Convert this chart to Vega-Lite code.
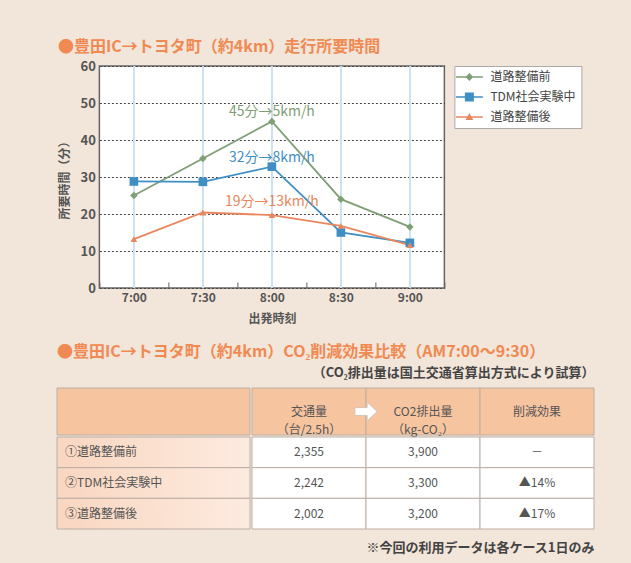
{
"$schema":"https://vega.github.io/schema/vega-lite/v6.json",
"background":"#f2e5d9",
"padding":{"left":56,"top":38,"right":20,"bottom":10},
"config":{
 "font":"Noto Sans CJK JP",
 "view":{"stroke":null},
 "title":{"fontSize":16,"fontWeight":"bold","color":"#f08a52","anchor":"start"}
},
"columns":1,
"center":true,
"spacing":18,
"resolve":{"scale":{"color":"independent","shape":"independent"},"legend":{"color":"independent","shape":"independent"}},
"concat":[
 {
  "title":{"text":"●豊田IC→トヨタ町（約4km）走行所要時間","frame":"bounds","offset":5},
  "width":345,"height":222,
  "view":{"fill":"#ffffff","stroke":"#666666","strokeWidth":1.5},
  "data":{"values":[
   {"時刻":"7:00","系列":"道路整備前","値":25},
   {"時刻":"7:30","系列":"道路整備前","値":35},
   {"時刻":"8:00","系列":"道路整備前","値":45},
   {"時刻":"8:30","系列":"道路整備前","値":24},
   {"時刻":"9:00","系列":"道路整備前","値":16.5},
   {"時刻":"7:00","系列":"TDM社会実験中","値":28.8},
   {"時刻":"7:30","系列":"TDM社会実験中","値":28.7},
   {"時刻":"8:00","系列":"TDM社会実験中","値":32.8},
   {"時刻":"8:30","系列":"TDM社会実験中","値":15},
   {"時刻":"9:00","系列":"TDM社会実験中","値":12.2},
   {"時刻":"7:00","系列":"道路整備後","値":13.2},
   {"時刻":"7:30","系列":"道路整備後","値":20.4},
   {"時刻":"8:00","系列":"道路整備後","値":19.7},
   {"時刻":"8:30","系列":"道路整備後","値":16.8},
   {"時刻":"9:00","系列":"道路整備後","値":11.6}
  ]},
  "encoding":{
   "x":{"field":"時刻","type":"ordinal",
    "scale":{"type":"band","domain":["7:00","7:30","8:00","8:30","9:00"],"paddingInner":0,"paddingOuter":0},
    "axis":{"title":"出発時刻","tickBand":"extent","ticks":true,"tickSize":-6,"tickColor":"#666666","domain":false,"grid":false,"labelAngle":0,"labelFontSize":12,"labelFontWeight":"bold","labelColor":"#555555","labelPadding":10,"titleFontSize":12,"titleFontWeight":"bold","titleColor":"#555555","titlePadding":10}},
   "y":{"field":"値","type":"quantitative","scale":{"domain":[0,60],"nice":false},
    "axis":{"values":[0,10,20,30,40,50,60],"title":"所要時間（分）","grid":true,"gridDash":[2,2],"gridColor":"#444444","gridWidth":1,"ticks":false,"domain":false,"labelOverlap":false,"labelFontSize":13,"labelFontWeight":"bold","labelColor":"#555555","labelPadding":4,"titleFontSize":12,"titleFontWeight":"bold","titleColor":"#555555","titlePadding":9}}
  },
  "layer":[
   {"mark":{"type":"rule","color":"#cde1f1","strokeWidth":1.5},"encoding":{"y":{"datum":60},"y2":{"datum":0}}},
   {"mark":{"type":"line","strokeWidth":1.8},
    "encoding":{"color":{"field":"系列","type":"nominal","scale":{"domain":["道路整備前","TDM社会実験中","道路整備後"],"range":["#7f9f76","#3f8fc4","#e8875d"]}}}},
   {"transform":[{"filter":"datum['系列'] === '道路整備前'"}],
    "mark":{"type":"point","filled":true,"opacity":1,"size":55,"shape":"diamond"},
    "encoding":{"color":{"field":"系列","type":"nominal"}}},
   {"transform":[{"filter":"datum['系列'] === 'TDM社会実験中'"}],
    "mark":{"type":"point","filled":true,"opacity":1,"size":75,"shape":"square"},
    "encoding":{"color":{"field":"系列","type":"nominal"}}},
   {"transform":[{"filter":"datum['系列'] === '道路整備後'"}],
    "mark":{"type":"point","filled":true,"opacity":1,"size":45,"shape":"triangle-up"},
    "encoding":{"color":{"field":"系列","type":"nominal"}}},
   {"transform":[{"filter":"false"}],
    "mark":{"type":"point","filled":true,"opacity":1},
    "encoding":{
     "color":{"field":"系列","type":"nominal",
      "legend":{"title":null,"orient":"right","offset":10,"padding":5,"fillColor":"#ffffff","strokeColor":"#aaaaaa","labelFontSize":12,"labelColor":"#444444","symbolSize":144,"symbolOffset":4,"symbolStrokeWidth":0,"labelOffset":15,"rowPadding":8}},
     "shape":{"field":"系列","type":"nominal",
      "scale":{"domain":["道路整備前","TDM社会実験中","道路整備後"],"range":["M-2.25,-0.13H2.25V0.13H-2.25Z M0,-0.65L0.65,0L0,0.65L-0.65,0Z","M-2.25,-0.13H2.25V0.13H-2.25Z M-0.75,-0.75H0.75V0.75H-0.75Z","M-2.25,-0.13H2.25V0.13H-2.25Z M0,-0.65L0.65,0.5H-0.65Z"]},
      "legend":{"title":null,"orient":"right","offset":10,"padding":5,"fillColor":"#ffffff","strokeColor":"#aaaaaa","labelFontSize":12,"labelColor":"#444444","symbolSize":144,"symbolOffset":4,"symbolStrokeWidth":0,"labelOffset":15,"rowPadding":8}}}},
   {"data":{"values":[
     {"時刻":"8:00","値":47.6,"系列":"道路整備前","注記":"45分→5km/h"},
     {"時刻":"8:00","値":35.2,"系列":"TDM社会実験中","注記":"32分→8km/h"},
     {"時刻":"8:00","値":23.2,"系列":"道路整備後","注記":"19分→13km/h"}
    ]},
    "mark":{"type":"text","fontSize":14},
    "encoding":{"text":{"field":"注記","type":"nominal"},"color":{"field":"系列","type":"nominal"}}}
  ]
 },
 {
  "title":{"text":"●豊田IC→トヨタ町（約4km）CO₂削減効果比較（AM7:00～9:30）","offset":7,"frame":"group"},
  "spacing":0,
  "vconcat":[
   {"spacing":0,"hconcat":[
    {"width":193,"height":47,
     "data":{"values":[{"行":"見出し","列":"項目"}]},
     "mark":{"type":"rect","fill":"#f7c4a0","stroke":"#bcaea4","strokeWidth":1},
     "encoding":{
      "x":{"field":"列","type":"nominal","scale":{"type":"band","paddingInner":0,"paddingOuter":0},"axis":null},
      "y":{"field":"行","type":"nominal","scale":{"type":"band","paddingInner":0,"paddingOuter":0},"axis":null}}},
    {"width":342,"height":47,
     "title":{"text":"（CO₂排出量は国土交通省算出方式により試算）","anchor":"end","fontSize":13,"fontWeight":"bold","color":"#444444","offset":8},
     "data":{"values":[
      {"行":"見出し","列":"交通量","見出し":"交通量\n（台/2.5h）"},
      {"行":"見出し","列":"CO2排出量","見出し":"CO2排出量\n（kg-CO₂）"},
      {"行":"見出し","列":"削減効果","見出し":"削減効果"}]},
     "encoding":{
      "x":{"field":"列","type":"nominal","scale":{"type":"band","domain":["交通量","CO2排出量","削減効果"],"paddingInner":0,"paddingOuter":0},"axis":null},
      "y":{"field":"行","type":"nominal","scale":{"type":"band","paddingInner":0,"paddingOuter":0},"axis":null}},
     "layer":[
      {"mark":{"type":"rect","fill":"#f7c4a0","stroke":"#bcaea4","strokeWidth":1}},
      {"mark":{"type":"text","fontSize":12,"color":"#555555","lineBreak":"\n","lineHeight":18},"encoding":{"text":{"field":"見出し","type":"nominal"}}},
      {"transform":[{"filter":"datum['列'] === 'CO2排出量'"}],
       "mark":{"type":"point","shape":"M-1,-0.35H0.1V-0.85L1,0L0.1,0.85V0.35H-1Z","filled":true,"fill":"#ffffff","stroke":"#d6c3b5","strokeWidth":1,"size":500,"opacity":1},
       "encoding":{"x":{"field":"列","type":"nominal","bandPosition":0}}}
     ]}
   ]},
   {"spacing":0,"hconcat":[
    {"width":193,"height":92,
     "data":{"values":[
      {"行":"①道路整備前","列":"項目"},
      {"行":"②TDM社会実験中","列":"項目"},
      {"行":"③道路整備後","列":"項目"}]},
     "encoding":{
      "x":{"field":"列","type":"nominal","scale":{"type":"band","paddingInner":0,"paddingOuter":0},"axis":null},
      "y":{"field":"行","type":"nominal","scale":{"type":"band","domain":["①道路整備前","②TDM社会実験中","③道路整備後"],"paddingInner":0,"paddingOuter":0},"axis":null}},
     "layer":[
      {"mark":{"type":"rect","fill":{"gradient":"linear","x1":0,"x2":1,"y1":0,"y2":0,"stops":[{"offset":0,"color":"#f9d6c0"},{"offset":1,"color":"#fdebe0"}]},"stroke":"#bcaea4","strokeWidth":1}},
      {"mark":{"type":"text","fontSize":12,"color":"#555555","align":"left","dx":8},
       "encoding":{"x":{"field":"列","type":"nominal","bandPosition":0},"text":{"field":"行","type":"nominal"}}}
     ]},
    {"width":342,"height":92,
     "title":{"text":"※今回の利用データは各ケース1日のみ","orient":"bottom","anchor":"end","fontSize":13,"fontWeight":"bold","color":"#444444","offset":12},
     "data":{"values":[
      {"行":"①道路整備前","列":"交通量","値":"2,355"},
      {"行":"①道路整備前","列":"CO2排出量","値":"3,900"},
      {"行":"①道路整備前","列":"削減効果","値":"－"},
      {"行":"②TDM社会実験中","列":"交通量","値":"2,242"},
      {"行":"②TDM社会実験中","列":"CO2排出量","値":"3,300"},
      {"行":"②TDM社会実験中","列":"削減効果","値":"▲14%"},
      {"行":"③道路整備後","列":"交通量","値":"2,002"},
      {"行":"③道路整備後","列":"CO2排出量","値":"3,200"},
      {"行":"③道路整備後","列":"削減効果","値":"▲17%"}]},
     "encoding":{
      "x":{"field":"列","type":"nominal","scale":{"type":"band","domain":["交通量","CO2排出量","削減効果"],"paddingInner":0,"paddingOuter":0},"axis":null},
      "y":{"field":"行","type":"nominal","scale":{"type":"band","domain":["①道路整備前","②TDM社会実験中","③道路整備後"],"paddingInner":0,"paddingOuter":0},"axis":null}},
     "layer":[
      {"mark":{"type":"rect","fill":"#ffffff","stroke":"#bcaea4","strokeWidth":1}},
      {"mark":{"type":"text","fontSize":12,"color":"#555555"},"encoding":{"text":{"field":"値","type":"nominal"}}}
     ]},
    {"width":30,"height":92,
     "data":{"values":[]},
     "mark":{"type":"rect"},
     "encoding":{}}
   ]}
  ]
 }
]
}
